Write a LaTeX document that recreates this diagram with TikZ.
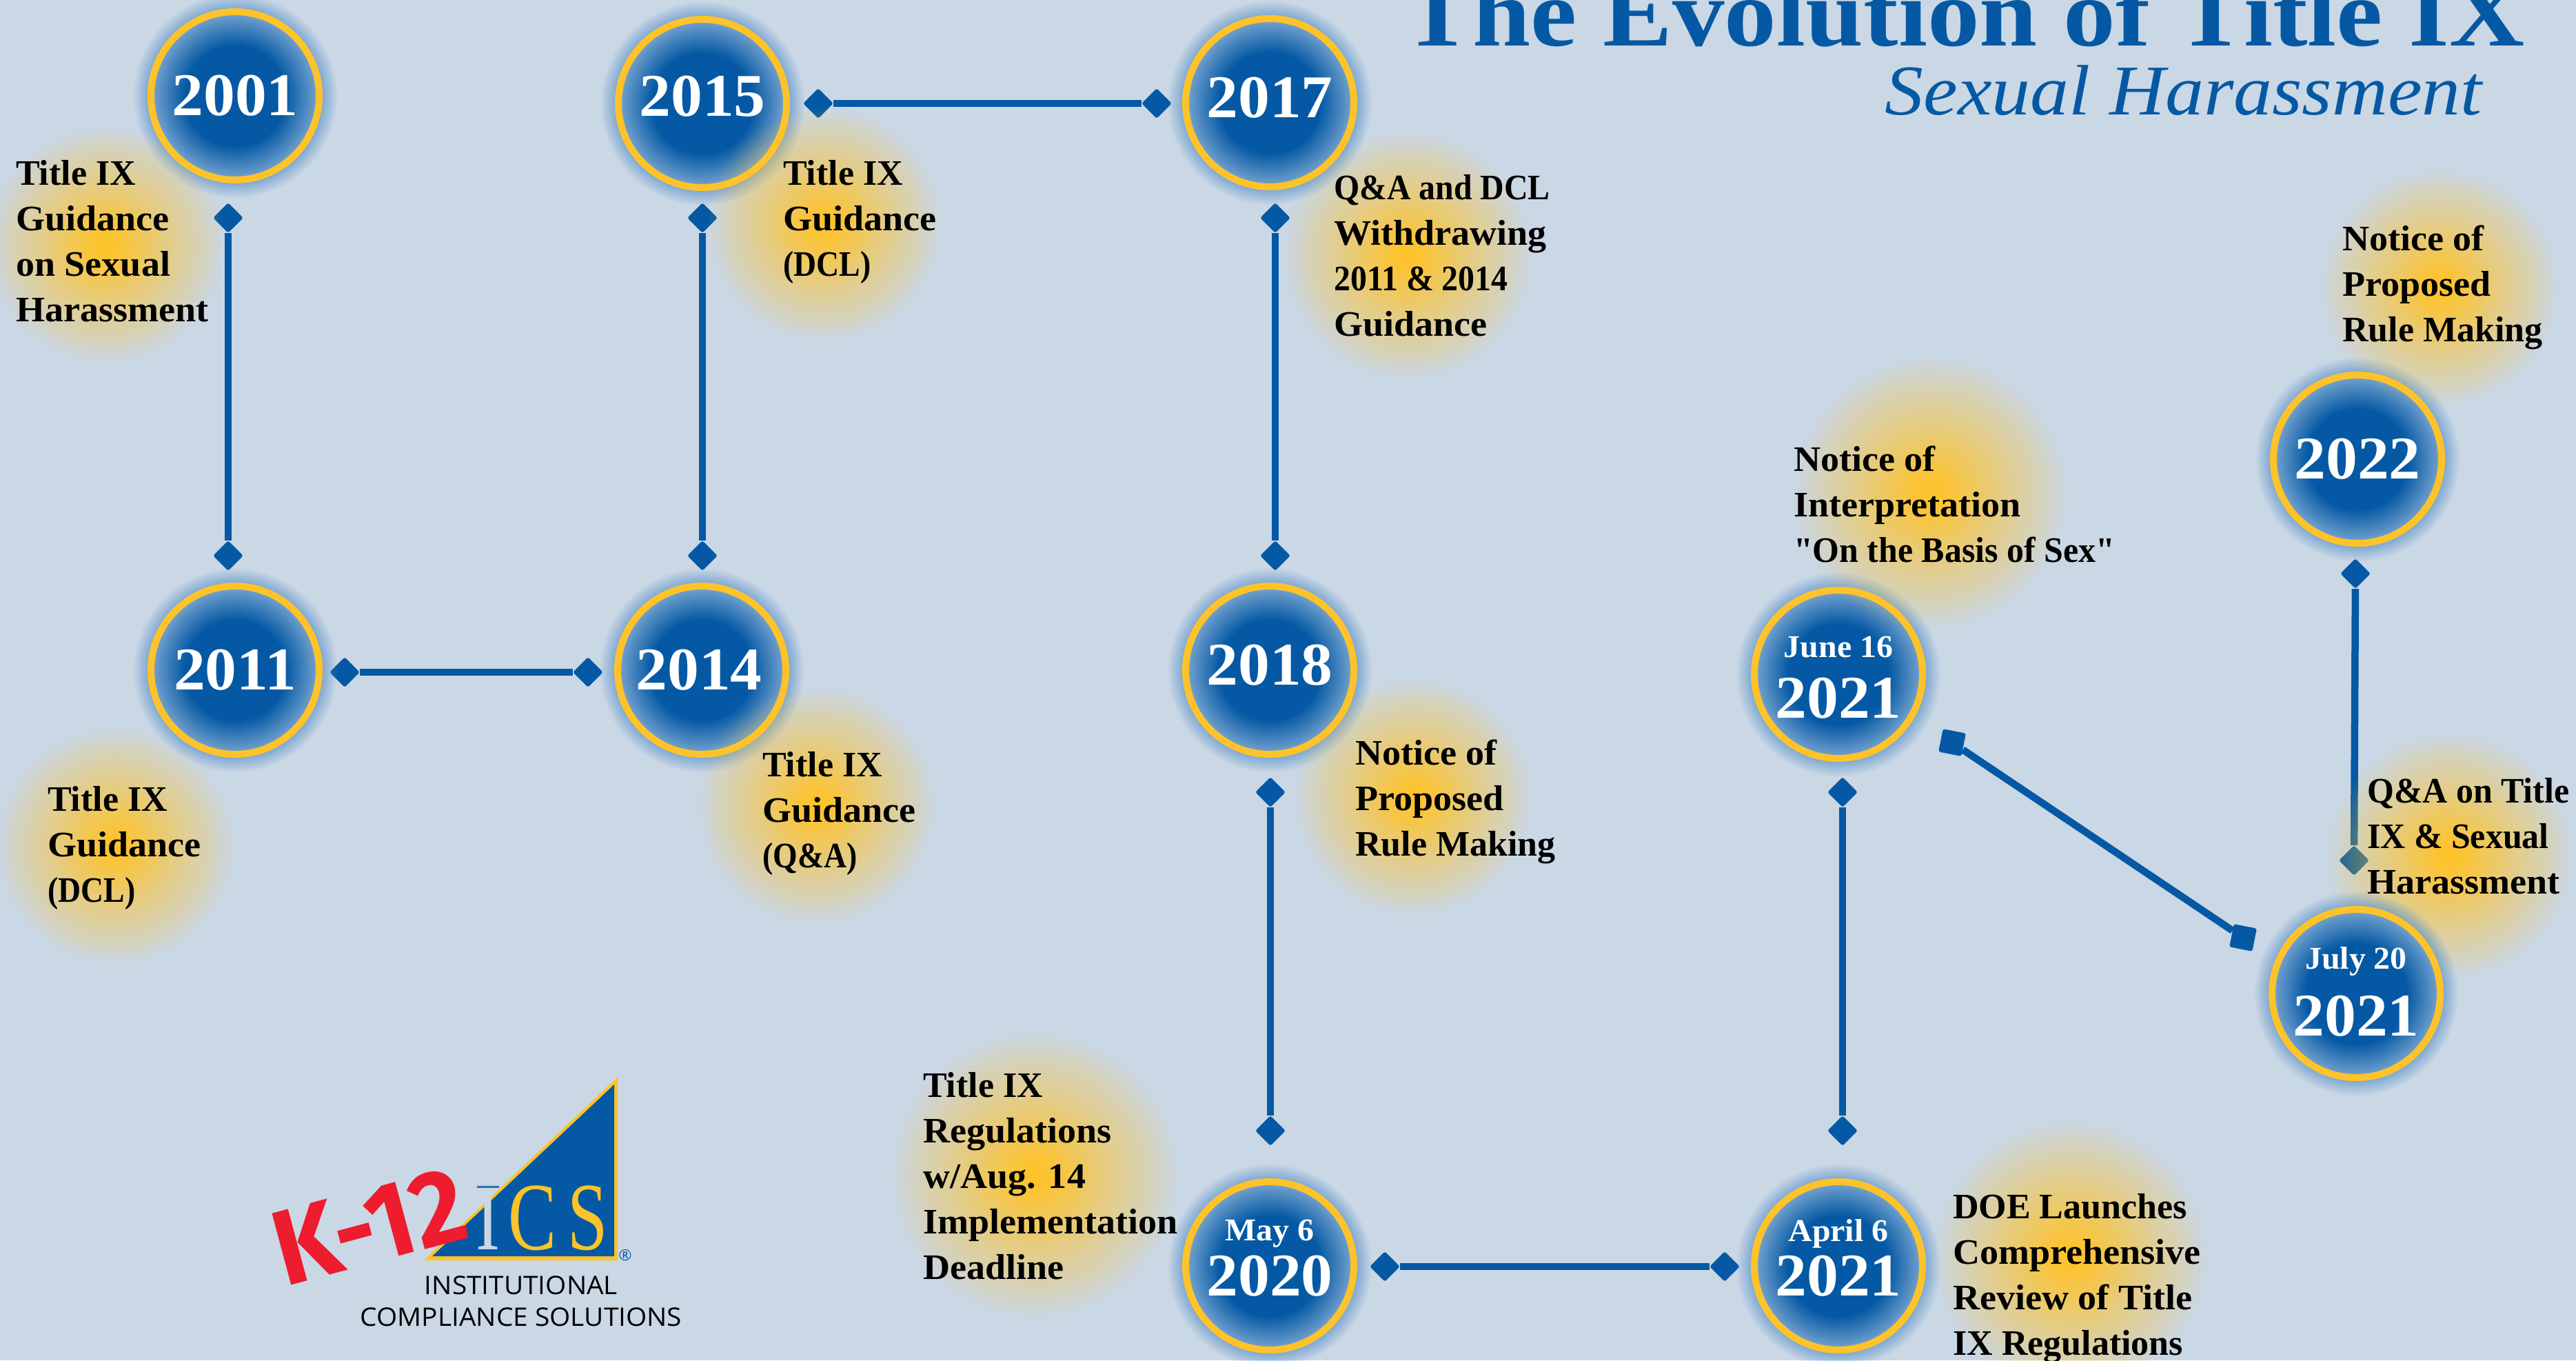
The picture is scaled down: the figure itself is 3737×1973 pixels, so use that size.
\documentclass[tikz,border=0pt]{standalone}
\usepackage{fontspec}
\setmainfont{Liberation Serif}[FakeStretch=1.04]
\newfontfamily\widef{Liberation Serif}[FakeStretch=1.08]
\newfontfamily\fa{Liberation Serif}[FakeStretch=0.88]
\newfontfamily\fb{Liberation Serif}[FakeStretch=0.92]
\newfontfamily\fc{Liberation Serif}[FakeStretch=0.96]
\newfontfamily\fd{Liberation Serif}[FakeStretch=1.0]
\newfontfamily\qf{Liberation Serif}[FakeStretch=0.96,Ligatures=ResetAll]
\newfontfamily\logoserif{Liberation Serif}[FakeStretch=0.75]
\newfontfamily\logosans{Open Sans}[FakeStretch=1.05]
\newfontfamily\kfont{Fira Sans}[FakeStretch=0.95]
\usetikzlibrary{fadings,shapes.geometric}
\definecolor{bgc}{RGB}{202,215,229}
\definecolor{bluec}{RGB}{5,89,164}
\definecolor{edgec}{RGB}{120,165,208}
\definecolor{glowc}{RGB}{80,140,198}
\definecolor{yelc}{RGB}{254,195,42}
\definecolor{redc}{RGB}{237,28,46}
\pgfdeclareradialshading{ballsh}{\pgfpointorigin}{color(0bp)=(bluec); color(15bp)=(bluec); color(25bp)=(edgec); color(50bp)=(edgec)}
\pgfdeclareradialshading{blobsh}{\pgfpointorigin}{color(0bp)=(transparent!0); color(3bp)=(transparent!6); color(12.5bp)=(transparent!47); color(20bp)=(transparent!77); color(25bp)=(transparent!100); color(50bp)=(transparent!100)}
\pgfdeclareradialshading{glowsh}{\pgfpointorigin}{color(0bp)=(transparent!35); color(21bp)=(transparent!35); color(25bp)=(transparent!100); color(50bp)=(transparent!100)}
\tikzfading[name=blobfade, shading=blobsh]
\tikzfading[name=glowfade, shading=glowsh]
\tikzset{
  ballnode/.style={circle, draw=yelc, line width=10pt, shading=ballsh, minimum size=244pt, inner sep=0pt, text=white, font=\fontsize{88}{90}\selectfont\bfseries},
  yearlab/.style={text=white, inner sep=0pt, font=\fontsize{88}{90}\selectfont\bfseries},
  datelab/.style={text=white, inner sep=0pt, font=\fontsize{46}{50}\selectfont\bfseries},
  notelab/.style={anchor=north west, align=left, inner sep=0pt, text=black, font=\fontsize{52}{66}\selectfont\bfseries},
  tipnode/.style={shape=diamond, fill=bluec, inner sep=0pt, minimum size=44pt, aspect=1, rounded corners=3pt},
  squaretip/.style={tipnode, minimum size=48pt, rotate=33.8},
  link/.style={draw=bluec, line width=10.5pt},
  logoletter/.style={anchor=base, inner sep=0pt, font=\logoserif\fontsize{140}{140}\selectfont},
  logotext/.style={anchor=base, inner sep=0pt, text=black, font=\logosans\fontsize{37}{40}\selectfont}
}
\newcommand{\blob}[3]{\fill[yelc, path fading=blobfade] (#1,#2) circle (#3pt);}
\newcommand{\glow}[2]{\fill[glowc, path fading=glowfade] (#1,#2) circle (148pt);}
\newcommand{\notetext}[4]{\node[notelab] (#1) at (#2,#3-46.2) {\strut #4};}
\begin{document}
\begin{tikzpicture}[x=1pt,y=-1pt]
\useasboundingbox (0,0) rectangle (3737,1973);
\clip (0,0) rectangle (3737,1973);
\fill[bgc] (0,0) rectangle (3737,1973);

% connector end points
\node[tipnode] (a1) at (331,316) {};
\node[tipnode] (a2) at (331,806) {};
\node[tipnode] (b1) at (500,975) {};
\node[tipnode] (b2) at (853,975) {};
\node[tipnode] (c1) at (1019,806) {};
\node[tipnode] (c2) at (1019,316) {};
\node[tipnode] (d1) at (1187,150) {};
\node[tipnode] (d2) at (1678,150) {};
\node[tipnode] (e1) at (1850,316) {};
\node[tipnode] (e2) at (1850,806) {};
\node[tipnode] (f1) at (1843,1149) {};
\node[tipnode] (f2) at (1843,1640) {};
\node[tipnode] (g1) at (2009,1837) {};
\node[tipnode] (g2) at (2502,1837) {};
\node[tipnode] (h1) at (2673,1640) {};
\node[tipnode] (h2) at (2673,1149) {};
\node[squaretip] (i1) at (2832,1077) {};
\node[squaretip] (i2) at (3254,1360) {};
\node[tipnode] (j1) at (3415,1248) {};
\node[tipnode] (j2) at (3417,832) {};
\foreach \p/\q in {a1/a2,b1/b2,c1/c2,d1/d2,e1/e2,f1/f2,g1/g2,h1/h2,i1/i2,j1/j2}
  \draw[link] (\p) -- (\q);

\blob{3553}{1241}{178}

% year circles
\glow{341}{139}   \node[ballnode] (y2001) at (341,139) {2001};
\glow{1019}{150}  \node[ballnode] (y2015) at (1019,150) {};
\glow{1842}{149}  \node[ballnode] (y2017) at (1842,149) {};
\glow{341}{972}   \node[ballnode] (y2011) at (341,972) {2011};
\glow{1018}{972}  \node[ballnode] (y2014) at (1018,972) {};
\glow{1842}{972}  \node[ballnode] (y2018) at (1842,972) {};
\glow{2667}{978}  \node[ballnode] (yjune) at (2667,978) {};
\glow{3418}{1441} \node[ballnode] (yjuly) at (3418,1441) {};
\glow{3420}{666}  \node[ballnode] (y2022) at (3420,666) {2022};
\glow{1842}{1836} \node[ballnode] (ymay) at (1842,1836) {};
\glow{2667}{1836} \node[ballnode] (yapr) at (2667,1836) {};

% yellow glows behind the notes
\blob{153}{355}{172}
\blob{1195}{325}{170}
\blob{2042}{370}{180}
\blob{167}{1227}{172}
\blob{1184}{1168}{172}
\blob{2050}{1156}{172}
\blob{2800}{715}{198}
\blob{3539}{417}{172}
\blob{1501}{1704}{208}
\blob{3003}{1823}{198}

% labels inside circles
\node[yearlab] (t2015) at (1019,140) {2015};
\node[yearlab] (t2017) at (1842,142) {2017};
\node[yearlab] (t2014) at (1014,972) {2014};
\node[yearlab] (t2018) at (1842,965) {2018};
\node[datelab] (djune) at (2667,939) {June 16};
\node[yearlab] (tjune) at (2667,1013) {2021};
\node[datelab] (djuly) at (3418,1394) {July 20};
\node[yearlab] (tjuly) at (3418,1474) {2021};
\node[datelab] (dmay) at (1842,1789) {May 6};
\node[yearlab] (tmay) at (1842,1851) {2020};
\node[datelab] (dapr) at (2667,1789) {April 6};
\node[yearlab] (tapr) at (2667,1851) {2021};

% notes
\notetext{n2001}{23}{268}{{\fd Title IX}\\Guidance\\on Sexual\\Harassment}
\notetext{n2015}{1136}{268}{{\fd Title IX}\\Guidance\\{\fa (DCL)}}
\notetext{n2017}{1935}{289}{{\fb Q\&A and DCL}\\Withdrawing\\{\fb 2011 \& 2014}\\Guidance}
\notetext{n2011}{69}{1176}{{\fd Title IX}\\Guidance\\{\fa (DCL)}}
\notetext{n2014}{1106}{1126}{{\fd Title IX}\\Guidance\\{\fa (Q\&A)}}
\notetext{n2018}{1966}{1109}{Notice of\\Proposed\\{\fd Rule Making}}
\notetext{njune}{2602}{683}{Notice of\\Interpretation\\{\qf "}{\fc On the Basis of Sex}{\qf "}}
\notetext{n2022}{3398}{363}{Notice of\\Proposed\\{\fd Rule Making}}
\notetext{njuly}{3434}{1164}{{\fc Q\&A on Title}\\{\fc IX \& Sexual}\\Harassment}
\notetext{nmay}{1339}{1591}{{\fd Title IX}\\Regulations\\w/Aug. 14\\Implementation\\Deadline}
\notetext{napr}{2833}{1767}{{\fd DOE Launches}\\Comprehensive\\Review of Title\\{\fd IX Regulations}}

% title
\node[anchor=base east, inner sep=0pt, text=bluec, font=\widef\fontsize{140}{140}\selectfont\bfseries] (title) at (3663,66) {The Evolution of Title IX};
\node[anchor=base east, inner sep=0pt, text=bluec, font=\widef\fontsize{103.5}{105}\selectfont\itshape] (subtitle) at (3601,166) {Sexual Harassment};

% logo
\fill[yelc] (896,1562) -- (896,1828) -- (615,1828) -- cycle;
\fill[bluec] (891,1573) -- (891,1822) -- (627,1822) -- cycle;
\node[logoletter, text=bgc] (li) at (708,1812) {I};
\fill[bluec!80!bgc] (692,1720) rectangle (724,1723);
\node[logoletter, text=yelc] (lc) at (773,1812) {C};
\node[logoletter, text=yelc] (ls) at (853,1812) {S};
\node[anchor=center, inner sep=0pt, text=bluec, font=\logosans\fontsize{22}{24}\selectfont] (lr) at (907,1821) {®};
\node[logotext] (li1) at (756,1877) {INSTITUTIONAL};
\node[logotext] (li2) at (756,1923) {COMPLIANCE SOLUTIONS};
\node[inner sep=0pt, text=redc, rotate=15, font=\kfont\fontsize{155}{160}\selectfont\bfseries] (k12) at (536,1778) {K-12};
\end{tikzpicture}
\end{document}
